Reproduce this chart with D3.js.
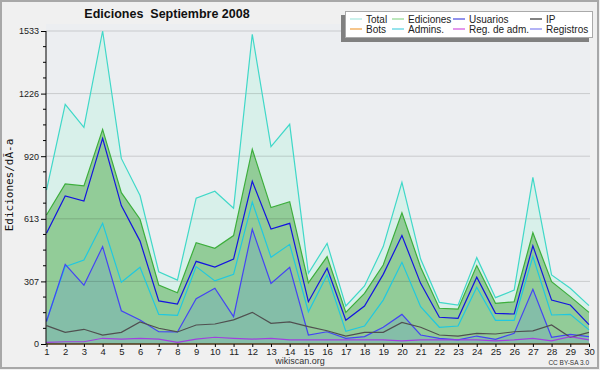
<!DOCTYPE html>
<html>
<head>
<meta charset="utf-8">
<script src="https://cdnjs.cloudflare.com/ajax/libs/d3/7.8.5/d3.min.js"></script>
<style>
  body { margin: 0; background: #f0f0f0; }
  svg { display: block; }
</style>
</head>
<body>
<svg width="600" height="370"></svg>
<script>
var days = [1,2,3,4,5,6,7,8,9,10,11,12,13,14,15,16,17,18,19,20,21,22,23,24,25,26,27,28,29,30];
var total     = [754,1174,1061,1533,909,727,354,313,714,748,665,1517,967,1076,346,493,186,284,477,792,416,204,190,423,227,264,816,338,273,188];
var ediciones = [632,784,774,1051,741,611,289,251,496,469,531,954,668,697,300,428,155,248,387,643,376,175,171,384,199,207,545,305,232,155];
var usuarios  = [542,725,700,1007,678,504,211,196,405,377,416,797,563,591,207,371,116,186,341,531,297,131,126,327,150,147,481,215,191,95];
var admins    = [115,379,411,591,302,376,145,140,379,309,341,695,425,488,158,338,62,88,215,400,183,82,88,278,116,116,428,142,145,69];
var registros = [110,390,288,477,163,118,60,59,222,273,134,562,297,376,44,60,28,36,82,145,44,28,20,39,23,52,268,33,47,36];
var ip        = [90,57,72,44,57,108,77,59,93,98,118,155,101,108,85,65,39,57,57,106,82,44,39,52,49,60,64,93,33,57];
var regAdm    = [8,11,11,28,24,28,24,8,24,33,28,24,28,20,20,20,20,20,20,15,20,20,20,20,15,20,28,15,36,20];
var bots      = [0,0,0,0,0,0,0,0,0,0,0,0,0,0,0,0,0,0,0,0,0,0,0,0,0,0,0,0,0,0];
var yTickLabels = ["0","307","613","920","1226","1533"];
var yMax = 1533;

var legendNames  = ["Total","Ediciones","Usuarios","IP","Bots","Admins.","Reg. de adm.","Registros"];
var legendColors = ["#a8e8e0","#90d890","#4848e0","#303030","#f0a040","#50d0e0","#d050e0","#8080f0"];

var svg = d3.select("svg");

// frame
svg.append("rect").attr("x", 1).attr("y", 1).attr("width", 597).attr("height", 367)
   .attr("fill", "#f0f0f0").attr("stroke", "#a8a8a8").attr("stroke-width", 2);

var x = d3.scaleLinear().domain([1, 30]).range([46.5, 589]);
var y = d3.scaleLinear().domain([0, yMax]).range([344, 31]);

svg.append("rect").attr("x", 46).attr("y", 24).attr("width", 544).attr("height", 320)
   .attr("fill", "#eceef1");

function area(vals) {
  return d3.area().x(function(d, i) { return x(days[i]); })
           .y0(y(0)).y1(function(d) { return y(d); })(vals);
}
function line(vals) {
  return d3.line().x(function(d, i) { return x(days[i]); })
           .y(function(d) { return y(d); })(vals);
}

svg.append("path").attr("d", area(total)).attr("fill", "#d8f0ea");
svg.append("path").attr("d", area(ediciones)).attr("fill", "#92cc98");
svg.append("path").attr("d", area(registros)).attr("fill", "#84bea8");

// grid
var tickVals = yTickLabels.map(function(d, i) { return yMax * i / 5; });
svg.selectAll(".grid").data(tickVals.slice(1)).enter().append("line")
   .attr("x1", 46).attr("x2", 590)
   .attr("y1", function(d) { return y(d); }).attr("y2", function(d) { return y(d); })
   .attr("stroke", "#000").attr("stroke-opacity", 0.15).attr("stroke-width", 1);

var series = [
  [total, "#40d8c8"],
  [ediciones, "#3cae3c"],
  [usuarios, "#1414e0"],
  [admins, "#20c8e0"],
  [registros, "#4444f4"],
  [ip, "#505050"],
  [regAdm, "#a040e0"],
  [bots, "#f0a040"]
];
series.forEach(function(s) {
  svg.append("path").attr("d", line(s[0])).attr("fill", "none")
     .attr("stroke", s[1]).attr("stroke-width", 1.2);
});

// axes
var yAxis = svg.append("g").attr("transform", "translate(46,0)")
   .call(d3.axisLeft(y).tickValues(tickVals).tickSize(5).tickPadding(2)
     .tickFormat(function(d, i) { return yTickLabels[i]; }));
yAxis.select(".domain").attr("d", "M0," + y(yMax) + "V" + y(0));
yAxis.selectAll("text").attr("font-family", "Liberation Sans, Arial, sans-serif").attr("font-size", "9px").attr("fill", "#222");

var minor = d3.range(0, 21).map(function(k) { return yMax * k / 20; })
   .filter(function(d, k) { return k % 4 !== 0; });
svg.selectAll(".minor").data(minor).enter().append("line")
   .attr("x1", 43).attr("x2", 46)
   .attr("y1", function(d) { return y(d); }).attr("y2", function(d) { return y(d); })
   .attr("stroke", "#000");

var xAxis = svg.append("g").attr("transform", "translate(0,344)")
   .call(d3.axisBottom(x).tickValues(days).tickSize(3).tickPadding(1)
     .tickFormat(d3.format("d")));
xAxis.select(".domain").attr("d", "M46,0H590");
xAxis.selectAll("text").attr("font-family", "Liberation Sans, Arial, sans-serif").attr("font-size", "9.5px").attr("fill", "#222");

svg.append("text").attr("transform", "translate(13,185) rotate(-90)")
   .attr("text-anchor", "middle").attr("font-family", "DejaVu Sans Mono, monospace")
   .attr("font-size", "11px").attr("fill", "#111").text("Ediciones/dÃ-a");

// title
svg.append("text").attr("x", 167).attr("y", 18).attr("text-anchor", "middle")
   .style("white-space", "pre")
   .attr("font-family", "Liberation Sans, Arial, sans-serif").attr("font-weight", "bold")
   .attr("font-size", "12.5px").attr("fill", "#111").text("Ediciones  Septiembre 2008");

svg.append("text").attr("x", 300).attr("y", 364).attr("text-anchor", "middle")
   .attr("font-family", "Liberation Sans, Arial, sans-serif").attr("font-size", "9px")
   .attr("fill", "#333").text("wikiscan.org");
svg.append("text").attr("x", 589).attr("y", 365).attr("text-anchor", "end")
   .attr("font-family", "Liberation Sans, Arial, sans-serif").attr("font-size", "6.5px")
   .attr("fill", "#333").text("CC BY-SA 3.0");

// legend
var lg = svg.append("g");
lg.append("rect").attr("x", 341).attr("y", 15).attr("width", 248).attr("height", 27).attr("fill", "#808080");
lg.append("rect").attr("x", 345.5).attr("y", 11.5).attr("width", 247).attr("height", 26)
  .attr("fill", "#fff").attr("stroke", "#aaa");
var colX = [350, 392, 453, 530];
legendNames.forEach(function(n, i) {
  var cx = colX[i % 4], cy = i < 4 ? 19 : 29;
  lg.append("line").attr("x1", cx).attr("x2", cx + 12).attr("y1", cy).attr("y2", cy)
    .attr("stroke", legendColors[i]).attr("stroke-width", 1.2);
  lg.append("text").attr("x", cx + 16).attr("y", cy + 3.5)
    .attr("font-family", "Liberation Sans, Arial, sans-serif").attr("font-size", "10px")
    .attr("fill", "#222").text(n);
});
</script>
</body>
</html>
